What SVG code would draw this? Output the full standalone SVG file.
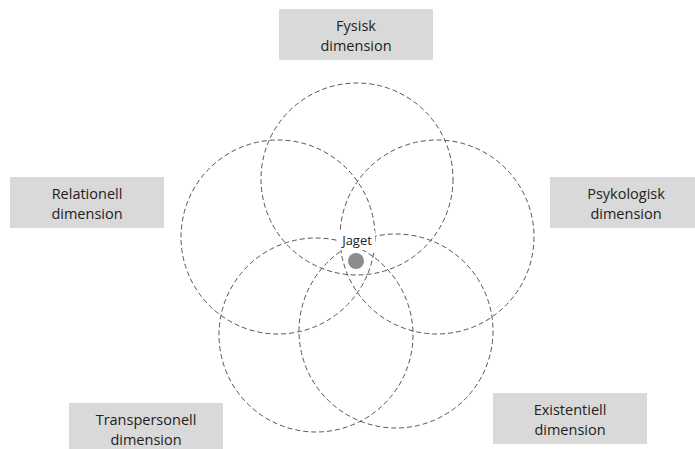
<svg xmlns="http://www.w3.org/2000/svg" width="695" height="449" viewBox="0 0 695 449">
<style>
.box{fill:#d9d9d9}
.lbl{font-family:"Open Sans","Liberation Sans",sans-serif;font-size:14.5px;fill:#222;text-anchor:middle}
.c{fill:none;stroke:#555;stroke-width:1;stroke-dasharray:5 3}
</style>
<rect width="695" height="449" fill="#fff"/>
<g id="connectors">
<circle class="c" cx="357" cy="179" r="96"/>
<circle class="c" cx="278" cy="237" r="97"/>
<circle class="c" cx="437" cy="237" r="97"/>
<circle class="c" cx="316" cy="335" r="97"/>
<circle class="c" cx="396" cy="331" r="97"/>
</g>
<g id="fysisk"><rect class="box" x="279" y="9" width="154" height="51"/><text class="lbl" x="356" y="31">Fysisk</text><text class="lbl" x="356" y="51">dimension</text></g>
<g id="relationell"><rect class="box" x="10" y="177" width="154" height="51"/><text class="lbl" x="87" y="199">Relationell</text><text class="lbl" x="87" y="219">dimension</text></g>
<g id="psykologisk"><rect class="box" x="550" y="177" width="154" height="51"/><text class="lbl" x="626" y="199">Psykologisk</text><text class="lbl" x="626" y="219">dimension</text></g>
<g id="transpersonell"><rect class="box" x="69" y="403" width="154" height="51"/><text class="lbl" x="146" y="425">Transpersonell</text><text class="lbl" x="146" y="445">dimension</text></g>
<g id="existentiell"><rect class="box" x="493" y="393" width="154" height="51"/><text class="lbl" x="570" y="415">Existentiell</text><text class="lbl" x="570" y="435">dimension</text></g>
<g id="jaget">
<rect x="339" y="231" width="36" height="19" fill="#fff"/>
<text x="357" y="245" style="font-family:'Open Sans','Liberation Sans',sans-serif;font-size:13px;fill:#222;text-anchor:middle">Jaget</text>
<circle cx="356" cy="261" r="8" fill="#8c8c8c"/>
</g>
</svg>
